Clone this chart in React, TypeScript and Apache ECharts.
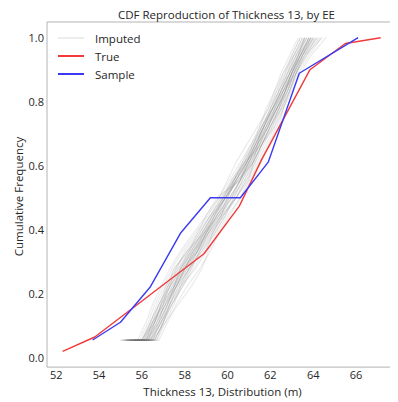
import React, { useEffect, useRef } from "react";
import * as echarts from "echarts";

// Cumulative levels shared by every imputed realization (k/18, first level repeated)
const IMPUTED_LEVELS = [
  1 / 18, 1 / 18, 2 / 18, 3 / 18, 4 / 18, 5 / 18, 6 / 18, 7 / 18, 8 / 18, 9 / 18,
  10 / 18, 11 / 18, 12 / 18, 13 / 18, 14 / 18, 15 / 18, 16 / 18, 17 / 18, 18 / 18,
];

// Sorted thickness values of each imputed realization
const IMPUTED_RUNS: number[][] = [
  [55.2, 56.0, 56.4, 56.8, 57.2, 57.7, 58.3, 58.8, 59.3, 59.8, 60.3, 60.8, 61.2, 61.6, 62.0, 62.4, 62.7, 63.1, 63.5],
  [55.6, 56.5, 56.9, 57.3, 57.7, 58.2, 58.8, 59.3, 59.8, 60.3, 60.7, 61.2, 61.6, 62.0, 62.4, 62.8, 63.1, 63.5, 64.0],
  [55.4, 56.1, 56.6, 56.9, 57.5, 58.1, 58.6, 59.0, 59.4, 59.9, 60.4, 60.9, 61.3, 61.7, 62.1, 62.5, 62.8, 63.2, 63.7],
  [55.3, 56.4, 56.9, 57.3, 57.6, 58.0, 58.4, 58.9, 59.5, 60.1, 60.6, 61.1, 61.5, 61.9, 62.3, 62.7, 63.0, 63.4, 63.9],
  [55.7, 56.6, 57.0, 57.4, 57.9, 58.4, 58.9, 59.4, 59.9, 60.4, 60.9, 61.3, 61.7, 62.1, 62.5, 62.9, 63.2, 63.7, 64.3],
  [55.1, 55.9, 56.3, 56.6, 57.0, 57.4, 57.9, 58.5, 59.1, 59.6, 60.1, 60.6, 61.1, 61.5, 61.9, 62.3, 62.7, 63.0, 63.4],
  [55.5, 56.2, 56.8, 57.2, 57.5, 57.9, 58.6, 59.2, 59.7, 60.1, 60.6, 61.0, 61.3, 61.7, 62.1, 62.5, 62.9, 63.4, 63.9],
  [55.4, 56.3, 56.6, 57.1, 57.6, 58.0, 58.4, 58.9, 59.4, 59.8, 60.2, 60.7, 61.2, 61.7, 62.2, 62.6, 63.0, 63.3, 63.6],
  [55.8, 56.7, 57.1, 57.5, 57.8, 58.3, 58.7, 59.1, 59.6, 60.2, 60.8, 61.3, 61.6, 62.0, 62.4, 62.7, 63.0, 63.4, 64.1],
  [55.2, 56.2, 56.5, 56.9, 57.3, 57.6, 58.1, 58.7, 59.2, 59.7, 60.2, 60.8, 61.2, 61.6, 62.0, 62.4, 62.8, 63.2, 63.6],
  [55.6, 56.4, 56.8, 57.0, 57.3, 57.8, 58.4, 59.0, 59.6, 60.0, 60.4, 60.9, 61.4, 61.9, 62.3, 62.6, 62.9, 63.3, 63.8],
  [55.3, 56.0, 56.5, 57.0, 57.4, 58.0, 58.6, 59.1, 59.5, 59.9, 60.3, 60.7, 61.1, 61.6, 62.1, 62.5, 62.9, 63.3, 63.7],
  [55.5, 56.5, 56.9, 57.2, 57.5, 57.8, 58.2, 58.8, 59.3, 59.9, 60.5, 61.1, 61.5, 61.8, 62.2, 62.6, 63.0, 63.5, 64.0],
  [55.0, 56.0, 56.4, 56.7, 57.1, 57.6, 58.0, 58.6, 59.2, 59.7, 60.3, 60.8, 61.3, 61.7, 62.0, 62.3, 62.6, 63.0, 63.4],
  [55.6, 56.6, 57.0, 57.3, 57.7, 58.2, 58.7, 59.3, 59.8, 60.4, 60.9, 61.4, 61.8, 62.2, 62.6, 62.9, 63.2, 63.6, 64.2],
  [55.4, 56.2, 56.7, 57.1, 57.4, 57.9, 58.3, 58.8, 59.3, 59.9, 60.5, 61.0, 61.4, 61.8, 62.2, 62.5, 62.9, 63.2, 63.7],
  [55.7, 56.5, 56.8, 57.2, 57.6, 58.1, 58.6, 59.0, 59.5, 60.0, 60.4, 60.9, 61.3, 61.8, 62.3, 62.7, 63.1, 63.5, 63.9],
  [55.3, 56.1, 56.5, 56.8, 57.2, 57.7, 58.2, 58.7, 59.2, 59.8, 60.4, 61.0, 61.5, 61.9, 62.2, 62.6, 63.0, 63.4, 63.8],
  [55.5, 56.4, 56.7, 57.1, 57.6, 58.2, 58.8, 59.4, 59.9, 60.3, 60.7, 61.1, 61.5, 61.9, 62.3, 62.7, 63.1, 63.6, 64.4],
  [55.2, 56.3, 56.6, 56.9, 57.3, 57.8, 58.3, 58.9, 59.4, 59.9, 60.4, 60.9, 61.3, 61.7, 62.1, 62.4, 62.8, 63.1, 63.5],
  [55.6, 56.2, 56.6, 57.0, 57.5, 58.0, 58.5, 59.1, 59.7, 60.2, 60.6, 61.0, 61.4, 61.8, 62.3, 62.8, 63.1, 63.4, 63.8],
  [55.4, 56.6, 57.0, 57.4, 57.8, 58.2, 58.6, 59.0, 59.4, 59.9, 60.5, 61.2, 61.6, 62.0, 62.4, 62.8, 63.2, 63.6, 64.0],
  [55.1, 56.1, 56.4, 56.8, 57.3, 57.9, 58.5, 59.0, 59.5, 60.1, 60.6, 61.0, 61.4, 61.7, 62.1, 62.5, 62.9, 63.3, 63.9],
  [55.5, 56.3, 56.8, 57.2, 57.6, 58.0, 58.5, 58.9, 59.3, 59.8, 60.3, 60.9, 61.4, 61.9, 62.3, 62.7, 63.0, 63.3, 63.6],
  [55.0, 55.8, 56.2, 56.5, 56.9, 57.3, 57.8, 58.4, 59.0, 59.6, 60.0, 60.4, 60.9, 61.4, 61.9, 62.2, 62.5, 62.9, 63.3],
  [55.8, 56.8, 57.2, 57.6, 58.1, 58.7, 59.2, 59.6, 60.1, 60.6, 61.1, 61.5, 61.9, 62.3, 62.6, 63.0, 63.4, 63.9, 64.6],
  [55.3, 56.2, 56.5, 57.0, 57.2, 57.5, 58.2, 58.6, 59.0, 59.5, 60.6, 61.2, 61.4, 61.6, 62.1, 62.6, 63.2, 63.5, 63.9],
  [55.5, 56.5, 57.1, 57.7, 58.3, 58.8, 59.1, 59.5, 60.0, 60.6, 61.0, 61.2, 61.6, 62.2, 62.5, 62.8, 63.1, 63.5, 64.2],
  [55.2, 56.0, 56.6, 56.9, 57.1, 57.5, 58.1, 58.9, 59.6, 60.2, 60.6, 60.9, 61.2, 61.5, 61.8, 62.2, 62.6, 63.1, 63.6],
  [55.6, 56.7, 57.0, 57.3, 57.8, 58.5, 59.0, 59.3, 59.7, 60.4, 61.0, 61.5, 62.0, 62.4, 62.6, 62.9, 63.3, 63.8, 64.4],
  [55.4, 56.3, 56.7, 57.1, 57.5, 57.8, 58.4, 59.1, 59.7, 60.0, 60.3, 60.8, 61.6, 62.1, 62.4, 62.7, 63.0, 63.4, 63.8],
  [55.7, 56.4, 56.9, 57.4, 57.9, 58.3, 58.7, 59.2, 59.8, 60.4, 60.8, 61.2, 61.6, 62.0, 62.5, 62.9, 63.2, 63.7, 64.1],
];

// True distribution CDF
const TRUE_X = [52.3, 53.8, 58.9, 60.55, 61.6, 63.85, 65.5, 67.15];
const TRUE_Y = [0.02, 0.065, 0.325, 0.474, 0.62, 0.9, 0.982, 1.0];

// Sample CDF
const SAMPLE_X = [53.7, 55.0, 56.4, 57.8, 59.2, 60.6, 61.9, 63.35, 66.1];
const SAMPLE_Y = [1 / 18, 2 / 18, 4 / 18, 7 / 18, 9 / 18, 9 / 18, 11 / 18, 16 / 18, 1.0];

const X_TICKS = [52, 54, 56, 58, 60, 62, 64, 66];
const Y_TICKS = [0, 0.2, 0.4, 0.6, 0.8, 1.0];

const FONT = "'Open Sans', 'DejaVu Sans', sans-serif";
const TEXT_COLOR = "#262626";
const RED = "#f23a3a";
const BLUE = "#3a3af2";

const zip = (xs: number[], ys: number[]) => xs.map((x, i) => [x, ys[i]]);

export default function App() {
  const ref = useRef<HTMLDivElement>(null);

  useEffect(() => {
    if (!ref.current) return;
    const chart = echarts.init(ref.current, undefined, { renderer: "svg" });

    const imputedSeries = IMPUTED_RUNS.map((run) => ({
      name: "Imputed",
      type: "line",
      data: zip(run, IMPUTED_LEVELS),
      symbol: "none",
      silent: true,
      lineStyle: { color: "#6e6e6e", width: 1.2, opacity: 0.14 },
      itemStyle: { color: "#6e6e6e" },
      z: 1,
    }));

    chart.setOption({
      animation: false,
      textStyle: { fontFamily: FONT },
      grid: {
        left: 47,
        top: 22,
        width: 359,
        height: 349,
        show: true,
        borderColor: "#b3b3b3",
        borderWidth: 1,
        backgroundColor: "transparent",
      },
      graphic: [
        {
          type: "text",
          x: 226.5,
          y: 14,
          style: {
            text: "CDF Reproduction of Thickness 13, by EE",
            fill: TEXT_COLOR,
            font: `11.5px ${FONT}`,
            textAlign: "center",
            textVerticalAlign: "middle",
          },
        },
        {
          type: "text",
          x: 18,
          y: 196.5,
          rotation: Math.PI / 2,
          style: {
            text: "Cumulative Frequency",
            fill: TEXT_COLOR,
            font: `11.5px ${FONT}`,
            textAlign: "center",
            textVerticalAlign: "middle",
          },
        },
      ],
      legend: {
        orient: "vertical",
        left: 53,
        top: 27,
        itemWidth: 26,
        itemHeight: 2,
        itemGap: 6,
        icon: "rect",
        textStyle: {
          fontFamily: FONT,
          fontSize: 11.5,
          lineHeight: 12,
          color: TEXT_COLOR,
          padding: [0, 0, 0, 6],
        },
        data: [
          { name: "Imputed", icon: "rect", itemStyle: { color: "#ededed", opacity: 1 } },
          { name: "True", icon: "rect", itemStyle: { color: RED } },
          { name: "Sample", icon: "rect", itemStyle: { color: BLUE } },
        ],
      },
      xAxis: {
        type: "value",
        min: 51.57,
        max: 67.96,
        name: "Thickness 13, Distribution (m)",
        nameLocation: "middle",
        nameGap: 15,
        nameTextStyle: { fontFamily: FONT, fontSize: 11.5, color: TEXT_COLOR },
        axisLine: { show: false },
        axisTick: { show: false },
        splitLine: { show: false },
        axisLabel: {
          customValues: X_TICKS,
          margin: 2,
          fontFamily: FONT,
          fontSize: 11,
          color: TEXT_COLOR,
          formatter: (v: number) => String(Math.round(v)),
        },
      },
      yAxis: {
        type: "value",
        min: -0.029,
        max: 1.049,
        axisLine: { show: false },
        axisTick: { show: false },
        splitLine: { show: false },
        axisLabel: {
          customValues: Y_TICKS,
          margin: 3,
          fontFamily: FONT,
          fontSize: 11,
          color: TEXT_COLOR,
          formatter: (v: number) => v.toFixed(1),
        },
      },
      series: [
        ...imputedSeries,
        {
          name: "True",
          type: "line",
          data: zip(TRUE_X, TRUE_Y),
          symbol: "none",
          lineStyle: { color: RED, width: 1.4 },
          itemStyle: { color: RED },
          z: 3,
        },
        {
          name: "Sample",
          type: "line",
          data: zip(SAMPLE_X, SAMPLE_Y),
          symbol: "none",
          lineStyle: { color: BLUE, width: 1.4 },
          itemStyle: { color: BLUE },
          z: 4,
        },
      ],
    });

    return () => chart.dispose();
  }, []);

  return <div ref={ref} style={{ width: 398, height: 402, marginLeft: -8, marginTop: -8 }} />;
}
